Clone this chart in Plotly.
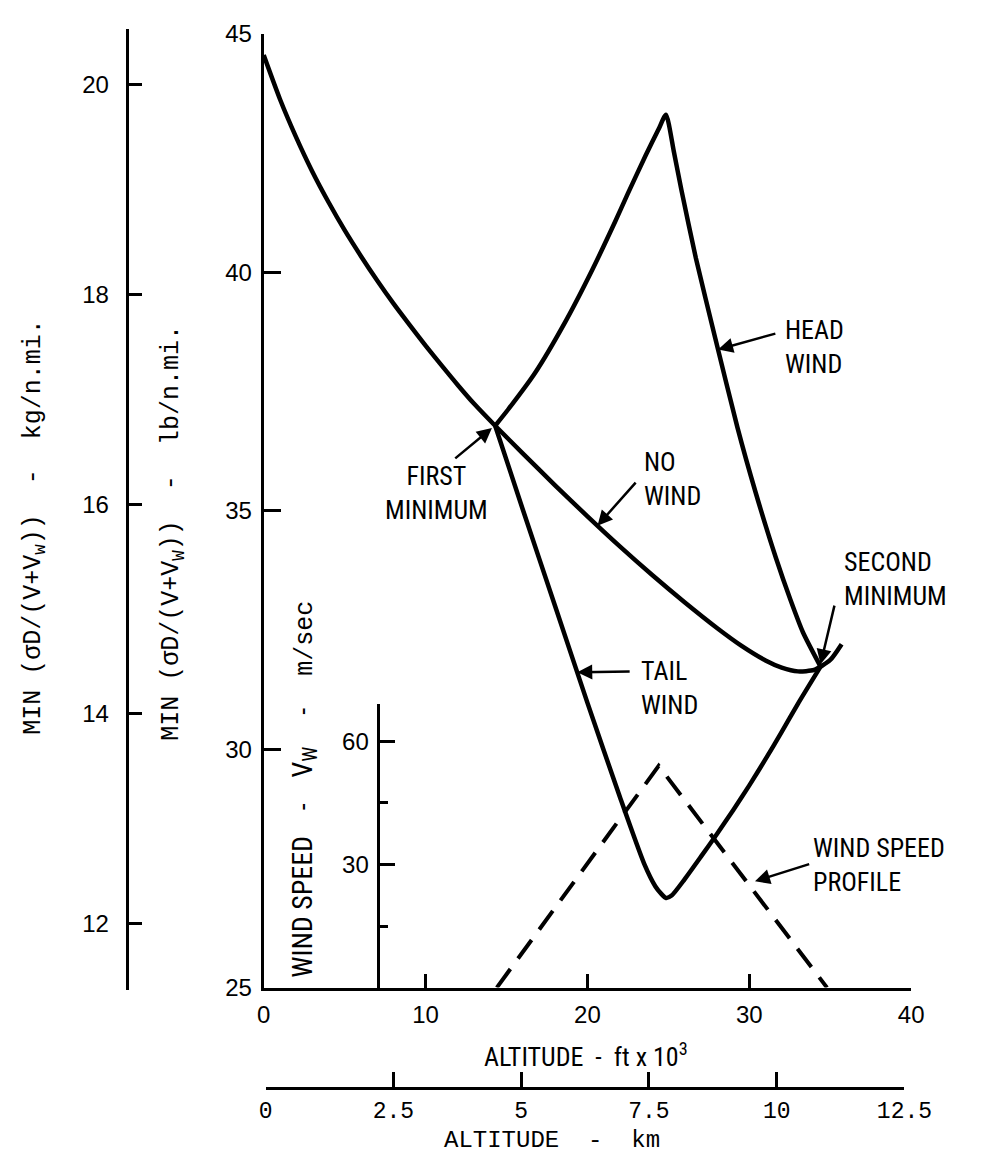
import numpy as np
import plotly.graph_objects as go

# ---------------------------------------------------------------------------
# Data: minimum sigma*D/(V+Vw) (lb per n.mi.) versus altitude (ft x 1000)
# ---------------------------------------------------------------------------
no_wind_alt = [0.0, 1.0, 2.0, 3.0, 4.0, 5.0, 6.0, 7.0, 8.0, 9.0, 10.0, 11.0,
               12.0, 13.0, 14.3, 16.0, 18.0, 20.0, 22.0, 24.0, 26.0, 28.0,
               29.5, 31.0, 32.0, 33.0, 34.0, 35.0, 35.7]
no_wind = [44.55, 43.63, 42.83, 42.11, 41.47, 40.88, 40.34, 39.83, 39.35,
           38.90, 38.46, 38.04, 37.63, 37.24, 36.78, 36.20, 35.53, 34.88,
           34.25, 33.65, 33.08, 32.54, 32.17, 31.86, 31.71, 31.63, 31.66,
           31.87, 32.20]

head_wind_alt = [14.3, 15.1, 16.75, 18.7, 20.3, 21.7, 22.5, 23.6, 24.4, 24.85,
                 25.33, 25.8, 26.7, 27.9, 29.26, 30.39, 31.65, 32.54, 33.31,
                 34.4]
head_wind = [36.78, 37.12, 37.88, 39.00, 40.05, 41.05, 41.65, 42.45, 43.00,
             43.30, 42.54, 41.73, 40.29, 38.61, 36.75, 35.38, 34.00, 33.13,
             32.45, 31.73]

tail_wind_alt = [14.3, 16.0, 18.0, 20.0, 22.0, 23.5, 24.2, 24.55, 24.85, 25.2,
                 26.0, 27.0, 28.0, 29.0, 30.0, 31.0, 32.0, 33.0, 34.4]
tail_wind = [36.78, 35.03, 33.00, 30.97, 29.00, 27.60, 27.12, 26.97, 26.88,
             26.93, 27.27, 27.74, 28.22, 28.72, 29.24, 29.79, 30.36, 30.95,
             31.73]

# Wind speed profile (m/sec) versus altitude (ft x 1000)
wind_alt = [14.4, 24.4, 34.8]
wind_speed = [0.0, 54.0, 0.0]

# Tick values
ft_ticks = [0, 10, 20, 30, 40]
lb_ticks = [25, 30, 35, 40, 45]
kg_ticks = [12, 14, 16, 18, 20]
km_ticks = [0, 2.5, 5, 7.5, 10, 12.5]
km_labels = ["0", "2.5", "5", "7.5", "10", "12.5"]
wind_major = [30, 60]
wind_minor = [15, 45]

LB_TO_KG = 0.45359
KFT_TO_KM = 0.3048

# ---------------------------------------------------------------------------
W, H = 1000, 1166


def px(x):
    return x / W


def py(y):
    return 1 - y / H


SANS = "Liberation Sans, Arial, sans-serif"
NARROW = "Liberation Sans Narrow, Arial Narrow, Roboto Condensed, Liberation Sans, sans-serif"
MONO = "Liberation Mono, Courier New, monospace"
INK = "black"
NB = "\u00a0"

fig = go.Figure()

curve = dict(color=INK, width=4.5, shape="spline", smoothing=0.6)
for xs, ys in [(no_wind_alt, no_wind), (head_wind_alt, head_wind),
               (tail_wind_alt, tail_wind)]:
    fig.add_trace(go.Scatter(x=xs, y=ys, mode="lines", line=curve,
                             hoverinfo="skip"))

fig.add_trace(go.Scatter(x=wind_alt, y=wind_speed, xaxis="x", yaxis="y2",
                         mode="lines",
                         line=dict(color=INK, width=4, dash="23px,13px"),
                         hoverinfo="skip"))

# companion scales (kg per n.mi. and km), carried by transparent traces
fig.add_trace(go.Scatter(x=no_wind_alt, y=np.array(no_wind) * LB_TO_KG,
                         xaxis="x", yaxis="y3", mode="lines",
                         line=dict(width=0), opacity=0, hoverinfo="skip"))
fig.add_trace(go.Scatter(x=np.array(no_wind_alt) * KFT_TO_KM, y=no_wind,
                         xaxis="x2", yaxis="y", mode="lines",
                         line=dict(width=0), opacity=0, hoverinfo="skip"))

axis_common = dict(showline=True, linewidth=3, linecolor=INK, ticks="inside",
                   tickwidth=3, tickcolor=INK, showgrid=False, zeroline=False,
                   tickfont=dict(family=SANS, size=24, color=INK))

y_bottom, y_top = 996.7, 20.1
fig.update_layout(
    width=W, height=H, margin=dict(l=0, r=0, t=0, b=0),
    paper_bgcolor="white", plot_bgcolor="rgba(0,0,0,0)", showlegend=False,
    xaxis=dict(domain=[px(266), px(937)], range=[0, 40], tickvals=ft_ticks,
               ticklen=14, anchor="y", ticklabelstandoff=4, **axis_common),
    yaxis=dict(domain=[py(y_bottom), py(y_top)], range=[25, 45],
               tickvals=lb_ticks, ticklen=17, anchor="x",
               ticklabelstandoff=4, **axis_common),
    yaxis2=dict(domain=[py(y_bottom), py(706.7)], range=[0, 69],
                tickvals=wind_major, ticklen=15, anchor="free",
                position=px(384), ticklabelstandoff=3,
                minor=dict(tickvals=wind_minor, ticklen=8, ticks="inside",
                           tickwidth=3, tickcolor=INK),
                **axis_common),
    yaxis3=dict(domain=[py(998.7), py(15)], range=[11.369, 20.537],
                tickvals=kg_ticks, ticklen=13, anchor="free",
                position=px(124), ticklabelstandoff=12, **axis_common),
    xaxis2=dict(domain=[px(268), px(930)], range=[0, 12.5],
                tickvals=km_ticks, ticktext=km_labels, ticklen=15,
                anchor="free", position=py(1099), ticklabelstandoff=1,
                **{**axis_common,
                   "tickfont": dict(family=MONO, size=23, color=INK)}),
)


def arrow(tip_x, tip_y, tail_x, tail_y, yref="y"):
    return dict(x=tip_x, y=tip_y, xref="x", yref=yref, ax=tail_x, ay=tail_y,
                axref="x", ayref=yref, text="", showarrow=True, arrowhead=2,
                arrowsize=1.2, arrowwidth=2.5, arrowcolor=INK, standoff=0)


def label(text, x, y, xanchor="left", align="left", font=NARROW, size=26,
          angle=0):
    return dict(x=px(x), y=py(y), xref="paper", yref="paper", text=text,
                showarrow=False, xanchor=xanchor, yanchor="middle",
                align=align, textangle=angle,
                font=dict(family=font, size=size, color=INK))


desc = slice(9, None)
head_tip_x = 28.07
head_tip_y = float(np.interp(head_tip_x, head_wind_alt[desc], head_wind[desc]))
no_tip_x = 20.62
no_tip_y = float(np.interp(no_tip_x, no_wind_alt, no_wind))
tail_tip_x = 19.37
tail_tip_y = float(np.interp(tail_tip_x, tail_wind_alt, tail_wind))
prof_tip_x = 30.1
prof_tip_y = float(np.interp(prof_tip_x, wind_alt, wind_speed))

inset_title = ("WIND SPEED" + NB * 4 + "-" + NB * 4 + "V<sub>W</sub>"
               + NB * 5 + "-" + NB * 5
               + "<span style=\"font-family:'Liberation Mono', monospace;"
                 "font-size:25px\">m/sec</span>")

annotations = [
    arrow(head_tip_x, head_tip_y, 31.7, 38.72),
    arrow(no_tip_x, no_tip_y, 23.06, 35.62),
    arrow(head_wind_alt[0] - 0.2, head_wind[0] - 0.05, 11.74, 36.07),
    arrow(head_wind_alt[-1], head_wind[-1] + 0.05, 35.28, 33.04),
    arrow(tail_tip_x, tail_tip_y, 22.7, 31.63),
    arrow(prof_tip_x + 0.25, prof_tip_y + 1.5, 33.79, 30.2, yref="y2"),
    label("HEAD<br>WIND", 804, 341),
    label("NO<br>WIND", 658, 476),
    label("FIRST<br>MINIMUM", 445, 490, xanchor="center", align="center"),
    label("SECOND<br>MINIMUM", 865, 578),
    label("TAIL<br>WIND", 655, 690),
    label("WIND SPEED<br>PROFILE", 833, 871),
    label(f"ALTITUDE{NB} -{NB} ft x 10<sup>3</sup>", 600, 1066,
          xanchor="center"),
    label(f"ALTITUDE{NB} -{NB} km", 565, 1153, xanchor="center", font=MONO,
          size=24),
    label(f"MIN (σD/(V+V<sub>w</sub>)){NB} -{NB} kg/n.mi.", 29, 525,
          xanchor="center", font=MONO, size=25, angle=-90),
    label(f"MIN (σD/(V+V<sub>W</sub>)){NB} -{NB} lb/n.mi.", 172, 531,
          xanchor="center", font=MONO, size=25, angle=-90),
    label(inset_title, 308, 794, xanchor="center", size=28, angle=-90),
]
fig.update_layout(annotations=annotations)

fig.write_html("out.html")
